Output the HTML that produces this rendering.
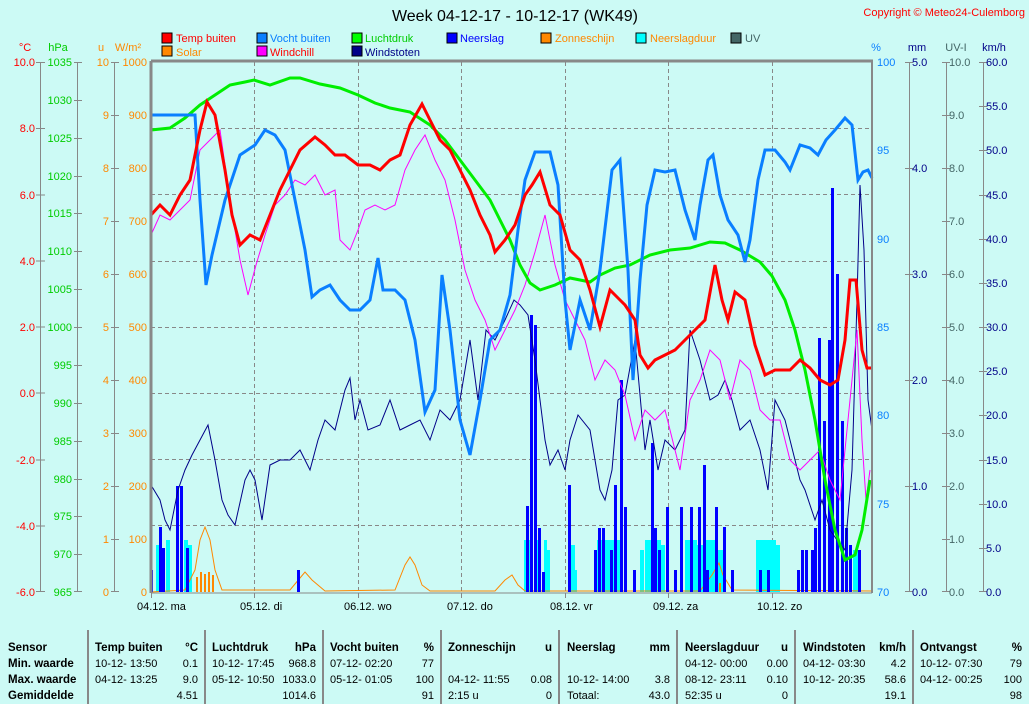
<!DOCTYPE html>
<html><head><meta charset="utf-8"><style>
body{margin:0;background:#ccfaf5;}
svg{display:block;font-family:"Liberation Sans",sans-serif;}
</style></head><body>
<svg width="1029" height="704" viewBox="0 0 1029 704" xmlns="http://www.w3.org/2000/svg">
<rect width="1029" height="704" fill="#ccfaf5"/>
<text x="515" y="21" font-size="16" text-anchor="middle" fill="#000">Week 04-12-17 - 10-12-17 (WK49)</text>
<text x="1025" y="16" font-size="11" text-anchor="end" fill="#f00">Copyright © Meteo24-Culemborg</text>
<g font-size="11">
<rect x="162" y="33" width="10" height="10" fill="#f00" stroke="#000"/><text x="176" y="42" fill="#f00">Temp buiten</text>
<rect x="162" y="46" width="10" height="10" fill="#f80" stroke="#000"/><text x="176" y="56" fill="#f80">Solar</text>
<rect x="257" y="33" width="10" height="10" fill="#0a7fff" stroke="#000"/><text x="270" y="42" fill="#0a7fff">Vocht buiten</text>
<rect x="257" y="46" width="10" height="10" fill="#f0f" stroke="#000"/><text x="270" y="56" fill="#f00">Windchill</text>
<rect x="352" y="33" width="10" height="10" fill="#0f0" stroke="#000"/><text x="365" y="42" fill="#0c0">Luchtdruk</text>
<rect x="352" y="46" width="10" height="10" fill="#008" stroke="#000"/><text x="365" y="56" fill="#008">Windstoten</text>
<rect x="447" y="33" width="10" height="10" fill="#00f" stroke="#000"/><text x="460" y="42" fill="#00f">Neerslag</text>
<rect x="541" y="33" width="10" height="10" fill="#f80" stroke="#000"/><text x="555" y="42" fill="#f80">Zonneschijn</text>
<rect x="636" y="33" width="10" height="10" fill="#0ff" stroke="#000"/><text x="650" y="42" fill="#f80">Neerslagduur</text>
<rect x="731" y="33" width="10" height="10" fill="#466" stroke="#000"/><text x="745" y="42" fill="#466">UV</text>
</g>
<g font-size="11">
<text x="25" y="51" fill="#f00" text-anchor="middle">°C</text>
<text x="58" y="51" fill="#0c0" text-anchor="middle">hPa</text>
<text x="101" y="51" fill="#f80" text-anchor="middle">u</text>
<text x="128" y="51" fill="#f80" text-anchor="middle">W/m²</text>
<text x="876" y="51" fill="#0a7fff" text-anchor="middle">%</text>
<text x="917" y="51" fill="#008" text-anchor="middle">mm</text>
<text x="956" y="51" fill="#466" text-anchor="middle">UV-I</text>
<text x="994" y="51" fill="#008" text-anchor="middle">km/h</text>
</g>
<g stroke="#888" stroke-width="1">
<line x1="40.5" y1="62" x2="40.5" y2="592"/>
<line x1="77.5" y1="62" x2="77.5" y2="592"/>
<line x1="114.5" y1="62" x2="114.5" y2="592"/>
<line x1="909.5" y1="62" x2="909.5" y2="592"/>
<line x1="946.5" y1="62" x2="946.5" y2="592"/>
<line x1="983.5" y1="62" x2="983.5" y2="592"/>
</g>
<g font-size="11">
<g fill="#f00" text-anchor="end">
<text x="35" y="66">10.0</text><text x="35" y="132">8.0</text><text x="35" y="199">6.0</text><text x="35" y="265">4.0</text><text x="35" y="331">2.0</text><text x="35" y="397">0.0</text><text x="35" y="464">-2.0</text><text x="35" y="530">-4.0</text><text x="35" y="596">-6.0</text>
</g>
<g stroke="#888"><line x1="36" x2="45" y1="62.5" y2="62.5"/><line x1="36" x2="45" y1="128.5" y2="128.5"/><line x1="36" x2="45" y1="195" y2="195"/><line x1="36" x2="45" y1="261" y2="261"/><line x1="36" x2="45" y1="327" y2="327"/><line x1="36" x2="45" y1="393" y2="393"/><line x1="36" x2="45" y1="460" y2="460"/><line x1="36" x2="45" y1="526" y2="526"/><line x1="36" x2="45" y1="591.5" y2="591.5"/>
<line x1="74" x2="82" y1="62.5" y2="62.5"/><line x1="74" x2="82" y1="100.5" y2="100.5"/><line x1="74" x2="82" y1="138.5" y2="138.5"/><line x1="74" x2="82" y1="176.5" y2="176.5"/><line x1="74" x2="82" y1="213.5" y2="213.5"/><line x1="74" x2="82" y1="251.5" y2="251.5"/><line x1="74" x2="82" y1="289.5" y2="289.5"/><line x1="74" x2="82" y1="327.5" y2="327.5"/><line x1="74" x2="82" y1="365.5" y2="365.5"/><line x1="74" x2="82" y1="403.5" y2="403.5"/><line x1="74" x2="82" y1="441.5" y2="441.5"/><line x1="74" x2="82" y1="479.5" y2="479.5"/><line x1="74" x2="82" y1="516.5" y2="516.5"/><line x1="74" x2="82" y1="554.5" y2="554.5"/><line x1="74" x2="82" y1="591.5" y2="591.5"/>
<line x1="111" x2="119" y1="62.5" y2="62.5"/><line x1="111" x2="119" y1="115.5" y2="115.5"/><line x1="111" x2="119" y1="168.5" y2="168.5"/><line x1="111" x2="119" y1="221.5" y2="221.5"/><line x1="111" x2="119" y1="274.5" y2="274.5"/><line x1="111" x2="119" y1="327.5" y2="327.5"/><line x1="111" x2="119" y1="380.5" y2="380.5"/><line x1="111" x2="119" y1="433.5" y2="433.5"/><line x1="111" x2="119" y1="486.5" y2="486.5"/><line x1="111" x2="119" y1="539.5" y2="539.5"/><line x1="111" x2="119" y1="591.5" y2="591.5"/>
<line x1="905" x2="913" y1="62.5" y2="62.5"/><line x1="905" x2="913" y1="168.5" y2="168.5"/><line x1="905" x2="913" y1="274.5" y2="274.5"/><line x1="905" x2="913" y1="380.5" y2="380.5"/><line x1="905" x2="913" y1="486.5" y2="486.5"/><line x1="905" x2="913" y1="591.5" y2="591.5"/>
<line x1="942" x2="950" y1="62.5" y2="62.5"/><line x1="942" x2="950" y1="115.5" y2="115.5"/><line x1="942" x2="950" y1="168.5" y2="168.5"/><line x1="942" x2="950" y1="221.5" y2="221.5"/><line x1="942" x2="950" y1="274.5" y2="274.5"/><line x1="942" x2="950" y1="327.5" y2="327.5"/><line x1="942" x2="950" y1="380.5" y2="380.5"/><line x1="942" x2="950" y1="433.5" y2="433.5"/><line x1="942" x2="950" y1="486.5" y2="486.5"/><line x1="942" x2="950" y1="539.5" y2="539.5"/><line x1="942" x2="950" y1="591.5" y2="591.5"/>
<line x1="979" x2="987" y1="62.5" y2="62.5"/><line x1="979" x2="987" y1="106.5" y2="106.5"/><line x1="979" x2="987" y1="150.5" y2="150.5"/><line x1="979" x2="987" y1="195.5" y2="195.5"/><line x1="979" x2="987" y1="239.5" y2="239.5"/><line x1="979" x2="987" y1="283.5" y2="283.5"/><line x1="979" x2="987" y1="327.5" y2="327.5"/><line x1="979" x2="987" y1="371.5" y2="371.5"/><line x1="979" x2="987" y1="415.5" y2="415.5"/><line x1="979" x2="987" y1="460.5" y2="460.5"/><line x1="979" x2="987" y1="504.5" y2="504.5"/><line x1="979" x2="987" y1="548.5" y2="548.5"/><line x1="979" x2="987" y1="591.5" y2="591.5"/>
</g>
<g fill="#0c0" text-anchor="end">
<text x="72" y="66">1035</text><text x="72" y="104">1030</text><text x="72" y="142">1025</text><text x="72" y="180">1020</text><text x="72" y="217">1015</text><text x="72" y="255">1010</text><text x="72" y="293">1005</text><text x="72" y="331">1000</text><text x="72" y="369">995</text><text x="72" y="407">990</text><text x="72" y="445">985</text><text x="72" y="483">980</text><text x="72" y="520">975</text><text x="72" y="558">970</text><text x="72" y="596">965</text>
</g>
<g fill="#f80" text-anchor="end">
<text x="109" y="66">10</text><text x="109" y="119">9</text><text x="109" y="172">8</text><text x="109" y="225">7</text><text x="109" y="278">6</text><text x="109" y="331">5</text><text x="109" y="384">4</text><text x="109" y="437">3</text><text x="109" y="490">2</text><text x="109" y="543">1</text><text x="109" y="596">0</text>
<text x="147" y="66">1000</text><text x="147" y="119">900</text><text x="147" y="172">800</text><text x="147" y="225">700</text><text x="147" y="278">600</text><text x="147" y="331">500</text><text x="147" y="384">400</text><text x="147" y="437">300</text><text x="147" y="490">200</text><text x="147" y="543">100</text><text x="147" y="596">0</text>
</g>
<g fill="#0a7fff">
<text x="877" y="66">100</text><text x="877" y="154">95</text><text x="877" y="243">90</text><text x="877" y="331">85</text><text x="877" y="419">80</text><text x="877" y="508">75</text><text x="877" y="596">70</text>
</g>
<g fill="#008">
<text x="912" y="66">5.0</text><text x="912" y="172">4.0</text><text x="912" y="278">3.0</text><text x="912" y="384">2.0</text><text x="912" y="490">1.0</text><text x="912" y="596">0.0</text>
</g>
<g fill="#466">
<text x="949" y="66">10.0</text><text x="949" y="119">9.0</text><text x="949" y="172">8.0</text><text x="949" y="225">7.0</text><text x="949" y="278">6.0</text><text x="949" y="331">5.0</text><text x="949" y="384">4.0</text><text x="949" y="437">3.0</text><text x="949" y="490">2.0</text><text x="949" y="543">1.0</text><text x="949" y="596">0.0</text>
</g>
<g fill="#008">
<text x="986" y="66">60.0</text><text x="986" y="110">55.0</text><text x="986" y="154">50.0</text><text x="986" y="199">45.0</text><text x="986" y="243">40.0</text><text x="986" y="287">35.0</text><text x="986" y="331">30.0</text><text x="986" y="375">25.0</text><text x="986" y="419">20.0</text><text x="986" y="464">15.0</text><text x="986" y="508">10.0</text><text x="986" y="552">5.0</text><text x="986" y="596">0.0</text>
</g>
</g>
<g stroke="#888" stroke-dasharray="4,3" stroke-width="1">
<line x1="254.5" y1="62" x2="254.5" y2="592"/><line x1="358.5" y1="62" x2="358.5" y2="592"/><line x1="461.5" y1="62" x2="461.5" y2="592"/><line x1="565.5" y1="62" x2="565.5" y2="592"/><line x1="668.5" y1="62" x2="668.5" y2="592"/><line x1="772.5" y1="62" x2="772.5" y2="592"/>
<line x1="151" x2="872" y1="128.5" y2="128.5"/><line x1="151" x2="872" y1="194.5" y2="194.5"/><line x1="151" x2="872" y1="261.5" y2="261.5"/><line x1="151" x2="872" y1="327.5" y2="327.5"/><line x1="151" x2="872" y1="393.5" y2="393.5"/><line x1="151" x2="872" y1="459.5" y2="459.5"/><line x1="151" x2="872" y1="525.5" y2="525.5"/>
</g>
<g fill="#0ff">
<rect x="156" y="545" width="4" height="47"/><rect x="166" y="540" width="4" height="52"/><rect x="184" y="540" width="4" height="52"/><rect x="188" y="545" width="4" height="47"/>
<rect x="524" y="540" width="4" height="52"/><rect x="528" y="540" width="4" height="52"/><rect x="536" y="540" width="4" height="52"/><rect x="544" y="540" width="3" height="52"/><rect x="547" y="550" width="3" height="42"/>
<rect x="571" y="545" width="4" height="47"/><rect x="574" y="570" width="3" height="22"/>
<rect x="597" y="540" width="20" height="52"/><rect x="617" y="540" width="6" height="52"/><rect x="640" y="550" width="4" height="42"/><rect x="645" y="540" width="16" height="52"/><rect x="661" y="545" width="4" height="47"/>
<rect x="685" y="540" width="12" height="52"/><rect x="697" y="545" width="6" height="47"/><rect x="703" y="540" width="14" height="52"/><rect x="717" y="550" width="8" height="42"/>
<rect x="756" y="540" width="20" height="52"/><rect x="776" y="545" width="4" height="47"/><rect x="853" y="550" width="8" height="42"/>
</g>
<g fill="#f80"><rect x="196" y="577" width="2" height="15"/><rect x="200" y="572" width="2" height="20"/><rect x="204" y="574" width="2" height="18"/><rect x="208" y="572" width="2" height="20"/><rect x="212" y="575" width="2" height="17"/><rect x="719" y="583" width="2" height="9"/></g>
<polyline fill="none" stroke="#f80" stroke-width="1" points="151,592 185,590 195,570 200,540 205,527 210,540 215,570 222,590 290,590 300,578 305,572 312,580 325,591 395,590 405,565 410,557 415,565 422,585 430,591 495,591 505,580 512,575 518,585 525,591 700,591 712,575 719,563 723,575 732,590 872,591"/>
<g fill="#00f">
<rect x="150" y="570" width="3" height="22"/><rect x="159" y="527" width="3" height="65"/><rect x="162" y="548" width="3" height="44"/><rect x="176" y="486" width="3" height="106"/><rect x="180" y="486" width="3" height="106"/><rect x="186" y="548" width="3" height="44"/><rect x="297" y="570" width="3" height="22"/>
<rect x="526" y="506" width="3" height="86"/><rect x="530" y="315" width="3" height="277"/><rect x="534" y="325" width="3" height="267"/><rect x="538" y="528" width="3" height="64"/><rect x="542" y="572" width="3" height="20"/>
<rect x="568" y="485" width="3" height="107"/><rect x="594" y="550" width="3" height="42"/><rect x="598" y="528" width="3" height="64"/><rect x="602" y="528" width="3" height="64"/><rect x="610" y="550" width="3" height="42"/><rect x="614" y="485" width="3" height="107"/><rect x="620" y="380" width="3" height="212"/><rect x="624" y="507" width="3" height="85"/><rect x="633" y="570" width="3" height="22"/><rect x="651" y="443" width="3" height="149"/><rect x="654" y="528" width="3" height="64"/><rect x="658" y="550" width="3" height="42"/><rect x="666" y="507" width="3" height="85"/><rect x="674" y="570" width="3" height="22"/><rect x="680" y="507" width="3" height="85"/>
<rect x="690" y="507" width="3" height="85"/><rect x="698" y="507" width="3" height="85"/><rect x="703" y="465" width="3" height="127"/><rect x="706" y="570" width="3" height="22"/><rect x="715" y="507" width="3" height="85"/><rect x="723" y="527" width="3" height="65"/><rect x="731" y="570" width="3" height="22"/><rect x="759" y="570" width="3" height="22"/><rect x="767" y="570" width="3" height="22"/>
<rect x="797" y="570" width="3" height="22"/><rect x="801" y="550" width="3" height="42"/><rect x="805" y="550" width="3" height="42"/><rect x="811" y="550" width="3" height="42"/><rect x="814" y="528" width="3" height="64"/><rect x="818" y="338" width="3" height="254"/><rect x="823" y="421" width="3" height="171"/><rect x="828" y="340" width="3" height="252"/><rect x="831" y="188" width="3" height="404"/><rect x="836" y="274" width="3" height="318"/><rect x="841" y="421" width="3" height="171"/><rect x="845" y="528" width="3" height="64"/><rect x="849" y="545" width="3" height="47"/><rect x="858" y="550" width="3" height="42"/>
</g>
<polyline fill="none" stroke="#008" stroke-width="1" points="151,485 160,500 165,520 170,530 178,490 185,470 192,455 200,440 208,425 215,460 222,500 228,515 235,525 245,480 250,470 255,480 262,520 270,465 280,460 290,460 300,450 310,470 318,440 325,420 335,430 345,390 350,378 355,420 360,400 368,430 380,425 390,400 400,430 410,425 420,420 430,440 440,410 450,420 460,400 470,340 478,400 486,330 495,340 505,320 514,300 520,305 528,315 535,360 540,400 545,440 550,465 558,450 565,470 570,440 578,415 590,430 600,490 605,500 612,470 618,400 625,395 635,340 645,450 650,420 658,470 665,440 675,450 685,430 690,330 700,360 710,400 718,395 725,380 732,400 740,430 750,420 760,450 768,490 775,400 785,420 795,460 800,480 805,490 815,520 822,500 830,530 837,540 845,550 852,470 857,300 860,185 864,250 868,400 872,430"/>
<polyline fill="none" stroke="#f0f" stroke-width="1" points="151,235 160,215 170,220 180,210 190,200 200,150 210,140 220,130 230,200 240,260 248,295 256,265 265,235 275,205 285,195 295,180 305,185 315,175 325,195 335,190 340,240 350,250 358,230 365,210 375,205 385,210 395,205 405,170 415,150 425,135 435,160 445,180 455,220 465,270 475,300 485,320 495,350 505,330 515,310 525,285 535,252 545,215 555,265 565,300 575,320 585,340 595,380 605,360 615,370 625,395 635,440 645,410 655,420 665,410 675,450 680,470 690,400 700,380 710,350 720,360 730,400 740,360 750,370 760,410 770,420 780,420 790,460 800,470 810,460 820,450 830,480 840,500 850,400 857,330 862,440 866,500 870,470"/>
<polyline fill="none" stroke="#0e0" stroke-width="3" points="151,130 170,128 185,118 200,105 215,95 230,85 245,82 254,80 270,85 290,78 300,78 320,84 340,88 358,95 375,103 390,108 410,112 430,125 445,140 460,160 475,180 490,200 500,220 510,240 520,265 530,283 540,290 555,285 570,278 590,282 600,275 615,268 630,265 650,255 670,250 690,248 710,242 725,243 740,250 760,262 772,276 785,300 795,330 805,370 815,420 825,480 835,530 845,560 855,555 862,530 870,480"/>
<polyline fill="none" stroke="#0a7fff" stroke-width="3" points="151,115 195,115 200,200 206,285 212,255 225,200 240,155 255,145 265,130 275,135 285,150 295,200 305,250 312,297 320,290 330,285 340,300 350,310 360,310 370,300 378,258 383,290 395,290 405,300 415,340 425,412 435,390 442,275 450,330 460,420 470,455 480,400 490,340 500,330 510,295 518,230 525,180 535,152 550,152 558,185 565,300 570,350 580,300 590,330 600,270 612,170 620,160 628,270 633,380 640,280 647,205 655,170 665,172 675,170 685,210 695,240 700,205 708,160 713,155 720,195 728,220 738,235 745,262 750,240 758,180 765,150 775,150 785,162 790,170 800,145 810,148 818,155 826,140 835,130 845,118 852,125 858,180 863,172 868,170 872,178"/>
<polyline fill="none" stroke="#f00" stroke-width="3" points="151,215 160,205 170,215 180,195 190,180 200,130 207,102 215,115 225,170 232,215 240,245 250,235 260,240 270,215 280,190 290,170 300,150 315,137 325,145 335,155 345,155 358,165 370,165 380,170 390,160 400,155 410,125 422,104 430,120 440,140 450,150 460,170 470,190 480,215 490,235 495,252 505,240 515,225 525,195 532,185 540,172 550,205 560,215 570,250 580,260 590,290 600,327 610,290 620,300 625,305 635,320 640,355 648,368 655,360 665,355 675,350 685,340 695,330 705,320 715,265 722,300 728,320 735,292 745,300 755,345 765,375 775,370 790,370 800,360 810,368 820,380 830,385 838,380 845,340 850,280 856,280 862,350 867,368 872,368"/>
<line x1="151" y1="61" x2="873" y2="61" stroke="#888" stroke-width="3"/>
<line x1="151" y1="61" x2="151" y2="593" stroke="#888" stroke-width="3"/>
<line x1="872" y1="61" x2="872" y2="593" stroke="#888" stroke-width="2"/>
<line x1="151" y1="593" x2="872" y2="593" stroke="#888" stroke-width="1"/>
<g stroke="#888"><line x1="151.5" y1="593" x2="151.5" y2="598"/><line x1="254.5" y1="593" x2="254.5" y2="598"/><line x1="358.5" y1="593" x2="358.5" y2="598"/><line x1="461.5" y1="593" x2="461.5" y2="598"/><line x1="565.5" y1="593" x2="565.5" y2="598"/><line x1="668.5" y1="593" x2="668.5" y2="598"/><line x1="772.5" y1="593" x2="772.5" y2="598"/></g>
<g font-size="11" fill="#000">
<text x="137" y="610">04.12.  ma</text><text x="240" y="610">05.12.  di</text><text x="344" y="610">06.12.  wo</text><text x="447" y="610">07.12.  do</text><text x="550" y="610">08.12.  vr</text><text x="653" y="610">09.12.  za</text><text x="757" y="610">10.12.  zo</text>
</g>
<g stroke="#888" stroke-width="2"><line x1="88" y1="630" x2="88" y2="704"/><line x1="205" y1="630" x2="205" y2="704"/><line x1="323" y1="630" x2="323" y2="704"/><line x1="441" y1="630" x2="441" y2="704"/><line x1="559" y1="630" x2="559" y2="704"/><line x1="677" y1="630" x2="677" y2="704"/><line x1="795" y1="630" x2="795" y2="704"/><line x1="913" y1="630" x2="913" y2="704"/></g>
<g font-size="11.5" fill="#000">
<g font-weight="bold"><text x="8" y="651">Sensor</text><text x="8" y="667">Min. waarde</text><text x="8" y="683">Max. waarde</text><text x="8" y="699">Gemiddelde</text>
<text x="95" y="651">Temp buiten</text><text x="198" y="651" text-anchor="end">°C</text>
<text x="212" y="651">Luchtdruk</text><text x="316" y="651" text-anchor="end">hPa</text>
<text x="330" y="651">Vocht buiten</text><text x="434" y="651" text-anchor="end">%</text>
<text x="448" y="651">Zonneschijn</text><text x="552" y="651" text-anchor="end">u</text>
<text x="567" y="651">Neerslag</text><text x="670" y="651" text-anchor="end">mm</text>
<text x="685" y="651">Neerslagduur</text><text x="788" y="651" text-anchor="end">u</text>
<text x="803" y="651">Windstoten</text><text x="906" y="651" text-anchor="end">km/h</text>
<text x="920" y="651">Ontvangst</text><text x="1022" y="651" text-anchor="end">%</text></g>
<g font-size="11">
<text x="95" y="667">10-12-  13:50</text><text x="198" y="667" text-anchor="end">0.1</text>
<text x="95" y="683">04-12-  13:25</text><text x="198" y="683" text-anchor="end">9.0</text><text x="198" y="699" text-anchor="end">4.51</text>
<text x="212" y="667">10-12-  17:45</text><text x="316" y="667" text-anchor="end">968.8</text>
<text x="212" y="683">05-12-  10:50</text><text x="316" y="683" text-anchor="end">1033.0</text><text x="316" y="699" text-anchor="end">1014.6</text>
<text x="330" y="667">07-12-  02:20</text><text x="434" y="667" text-anchor="end">77</text>
<text x="330" y="683">05-12-  01:05</text><text x="434" y="683" text-anchor="end">100</text><text x="434" y="699" text-anchor="end">91</text>
<text x="448" y="683">04-12-  11:55</text><text x="552" y="683" text-anchor="end">0.08</text><text x="448" y="699">2:15 u</text><text x="552" y="699" text-anchor="end">0</text>
<text x="567" y="683">10-12-  14:00</text><text x="670" y="683" text-anchor="end">3.8</text><text x="567" y="699">Totaal:</text><text x="670" y="699" text-anchor="end">43.0</text>
<text x="685" y="667">04-12-  00:00</text><text x="788" y="667" text-anchor="end">0.00</text>
<text x="685" y="683">08-12-  23:11</text><text x="788" y="683" text-anchor="end">0.10</text><text x="685" y="699">52:35 u</text><text x="788" y="699" text-anchor="end">0</text>
<text x="803" y="667">04-12-  03:30</text><text x="906" y="667" text-anchor="end">4.2</text>
<text x="803" y="683">10-12-  20:35</text><text x="906" y="683" text-anchor="end">58.6</text><text x="906" y="699" text-anchor="end">19.1</text>
<text x="920" y="667">10-12-  07:30</text><text x="1022" y="667" text-anchor="end">79</text>
<text x="920" y="683">04-12-  00:25</text><text x="1022" y="683" text-anchor="end">100</text><text x="1022" y="699" text-anchor="end">98</text>
</g>
</g>
</svg>
</body></html>
